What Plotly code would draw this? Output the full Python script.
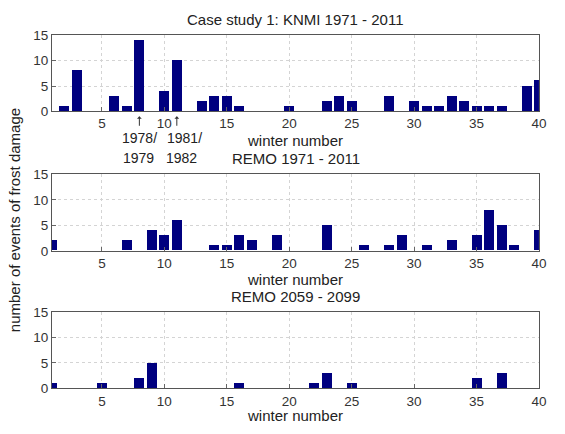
import plotly.graph_objects as go

winters = list(range(1, 41))
knmi_1971_2011 = [0, 1, 8, 0, 0, 3, 1, 14, 0, 4, 10, 0, 2, 3, 3, 1, 0, 0, 0, 1,
                  0, 0, 2, 3, 2, 0, 0, 3, 0, 2, 1, 1, 3, 2, 1, 1, 1, 0, 5, 6]
remo_1971_2011 = [2, 0, 0, 0, 0, 0, 2, 0, 4, 3, 6, 0, 0, 1, 1, 3, 2, 0, 3, 0,
                  0, 0, 5, 0, 0, 1, 0, 1, 3, 0, 1, 0, 2, 0, 3, 8, 5, 1, 0, 4]
remo_2059_2099 = [1, 0, 0, 0, 1, 0, 0, 2, 5, 0, 0, 0, 0, 0, 0, 1, 0, 0, 0, 0,
                  0, 1, 3, 0, 1, 0, 0, 0, 0, 0, 0, 0, 0, 0, 2, 0, 3, 0, 0, 0]
titles = ["Case study 1: KNMI 1971 - 2011", "REMO 1971 - 2011", "REMO 2059 - 2099"]
x_ticks = [5, 10, 15, 20, 25, 30, 35, 40]
y_ticks = [0, 5, 10, 15]

W, H = 565, 434
BAR = "#00007f"
FONT = "Liberation Sans, Arial, sans-serif"

fig = go.Figure()
series = [knmi_1971_2011, remo_1971_2011, remo_2059_2099]
# pixel boxes (top, bottom)
boxes = [(29.5, 108.0), (173.3, 252.5), (316.0, 395.0)]
xdom = [52.7 / W, 546.7 / W]

for i, (vals, (top, bot)) in enumerate(zip(series, boxes)):
    sfx = "" if i == 0 else str(i + 1)
    fig.add_trace(go.Bar(x=winters, y=vals, width=0.8, marker=dict(color=BAR, line=dict(width=0)),
                         xaxis="x" + sfx, yaxis="y" + sfx, showlegend=False))
    common = dict(showline=True, linecolor="#555", linewidth=1, mirror=True,
                  showgrid=True, gridcolor="#d4d4d4", griddash="dot", gridwidth=1,
                  ticks="inside", ticklen=4, tickcolor="#666", zeroline=False,
                  tickfont=dict(family=FONT, size=13.5, color="#333"))
    fig.update_layout(**{
        "xaxis" + sfx: dict(domain=xdom, range=[1, 40], tickvals=x_ticks,
                            anchor="y" + sfx, **common),
        "yaxis" + sfx: dict(domain=[1 - bot / H, 1 - top / H], range=[0, 15], tickvals=y_ticks,
                            anchor="x" + sfx, **common),
    })

ann = []
def txt(x, y, s, size=15, angle=0):
    ann.append(dict(x=x / W, y=1 - y / H, xref="paper", yref="paper", text=s, showarrow=False,
                    font=dict(family=FONT, size=size, color="#222"), textangle=angle,
                    xanchor="center", yanchor="middle"))

txt(300, 13, titles[0])
txt(300, 157, titles[1])
txt(300, 300, titles[2])
txt(299, 138, "winter number")
txt(299, 282, "winter number")
txt(299, 423, "winter number")
txt(15, 221, "number of events of frost damage", angle=-90)
txt(141, 136, "1978/", size=14)
txt(140, 156, "1979", size=14)
txt(187, 136, "1981/", size=14)
txt(184, 156, "1982", size=14)

for xv in [8, 11]:
    ann.append(dict(x=xv, y=0, xref="x", yref="y", text="", showarrow=True,
                    ax=0, ay=16, axref="pixel", ayref="pixel", arrowhead=1, arrowsize=0.8,
                    arrowwidth=1, arrowcolor="#333", standoff=5))

fig.update_layout(width=W, height=H, margin=dict(l=0, r=0, t=0, b=0),
                  paper_bgcolor="white", plot_bgcolor="white", bargap=0,
                  annotations=ann)
fig.write_html("out.html")
